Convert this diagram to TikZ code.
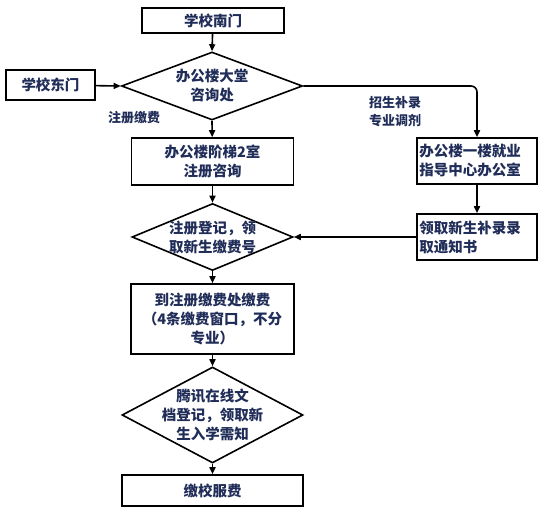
\documentclass[tikz,border=0pt]{standalone}
\usepackage{fontspec}
\newfontfamily\cjk{Noto Sans CJK SC}
\usetikzlibrary{shapes.geometric,arrows.meta}
\definecolor{txtc}{RGB}{32,45,88}
\tikzset{
  box/.style={draw=black,line width=1.6pt,fill=white,inner sep=0pt},
  dia/.style={draw=black,line width=1.6pt,fill=white,diamond,inner sep=0pt},
  txt/.style={text=txtc,font=\cjk\bfseries\fontsize{14.5}{19}\selectfont,align=center,inner sep=0pt},
  lbl/.style={text=txtc,font=\cjk\bfseries\fontsize{13}{18}\selectfont,align=center,inner sep=0pt},
  arr/.style={line width=1.6pt,-{Triangle[length=7pt,width=6pt]}},
}
\begin{document}
\begin{tikzpicture}[x=1pt,y=-1pt]
\useasboundingbox (0,0) rectangle (542,511);
\node[box,minimum width=142pt,minimum height=25pt] (n1) at (213,20.5) {};
\node[txt] at (n1) {学校南门};
\node[dia,minimum width=181pt,minimum height=68pt] (d1) at (212,86) {};
\node[txt] at (d1) {办公楼大堂\\咨询处};
\node[box,minimum width=89pt,minimum height=30pt] (e1) at (50.5,85) {};
\node[txt] at (e1) {学校东门};
\node[box,minimum width=162pt,minimum height=47pt] (b2) at (212.5,161.5) {};
\node[txt] at (b2) {办公楼阶梯2室\\注册咨询};
\node[box,minimum width=120pt,minimum height=46pt] (r1) at (477,161) {};
\node[txt,align=left,anchor=west] at ([xshift=3pt]r1.west) {办公楼一楼就业\\指导中心办公室};
\node[box,minimum width=120pt,minimum height=46pt] (r2) at (477,237) {};
\node[txt,align=left,anchor=west] at ([xshift=3pt]r2.west) {领取新生补录录\\取通知书};
\node[dia,minimum width=161pt,minimum height=67pt] (d2) at (212.5,237) {};
\node[txt] at (d2) {注册登记，领\\取新生缴费号};
\node[box,minimum width=163pt,minimum height=70pt] (b3) at (212.5,319) {};
\node[txt] at (b3) {到注册缴费处缴费\\（4条缴费窗口，不分\\专业）};
\node[dia,minimum width=181pt,minimum height=96pt] (d3) at (212.5,415) {};
\node[txt] at (d3) {腾讯在线文\\档登记，领取新\\生入学需知};
\node[box,minimum width=181pt,minimum height=31pt] (b4) at (212.5,490.5) {};
\node[txt] at (b4) {缴校服费};
\node[lbl] (l1) at (134,118) {注册缴费};
\node[lbl] (l2) at (395,112) {招生补录\\专业调剂};
\draw[arr] (n1) -- (d1.north);
\draw[arr] (e1) -- (d1.west);
\draw[arr] (d1.south) -- (b2);
\draw[arr,rounded corners=6pt] (d1.east) -| (r1.north);
\draw[arr] (r1) -- (r2);
\draw[arr] (r2) -- (d2.east);
\draw[arr] (b2) -- (d2.north);
\draw[arr] (d2.south) -- (b3);
\draw[arr] (b3) -- (d3.north);
\draw[arr] (d3.south) -- (b4);
\end{tikzpicture}
\end{document}
